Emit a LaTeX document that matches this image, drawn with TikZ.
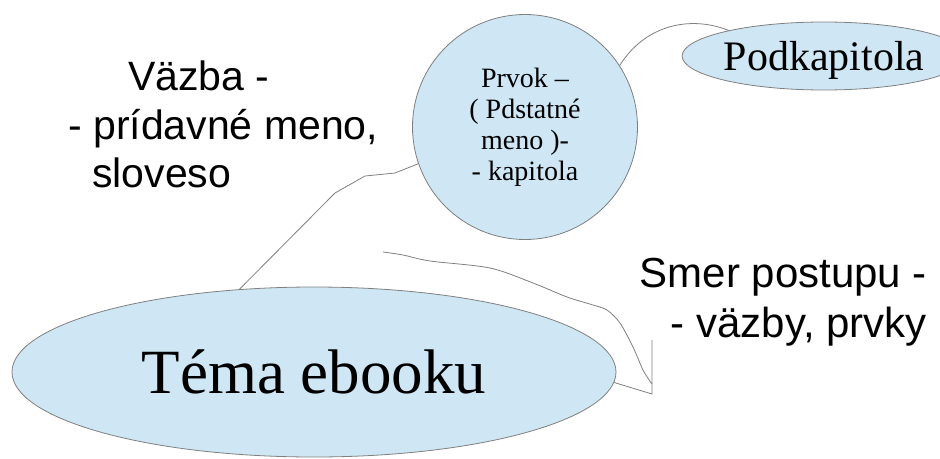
\documentclass[tikz,border=0pt]{standalone}
\usepackage{fontspec}
\setmainfont{Liberation Serif}
\newfontfamily\arialfont{Liberation Sans}
\usetikzlibrary{shapes.geometric}
\definecolor{bublina}{HTML}{CFE7F5}
\definecolor{ciara}{HTML}{7F7F7F}

\begin{document}
\begin{tikzpicture}[x = 1pt, y = -1pt,
    bublina/.style = {draw=ciara, fill=bublina, line width=0.8pt, inner sep=0pt},
    spoj/.style = {draw=ciara, line width=0.8pt},
    popis/.style = {inner sep=0pt, font=\arialfont\fontsize{41}{48.5}\selectfont}]

    \useasboundingbox (0,0) rectangle (940,458);

    \node[bublina, ellipse, minimum width=604, minimum height=170] (tema) at (314,372)
        {\fontsize{63}{70}\selectfont Téma ebooku};
    \node[bublina, circle, minimum size=225, align=center, font=\fontsize{28}{31}\selectfont] (prvok) at (525,127)
        {Prvok –\\( Pdstatné\\meno )-\\- kapitola};
    \node[bublina, ellipse, minimum width=228, minimum height=68, text depth=0pt] (podkap) at (824,56)
        {\fontsize{42}{48}\selectfont Podkapitola};

    \node[popis, align=left, anchor=north west] (vazba) at (68,61)
        {\hspace{60pt}Väzba -\\- prídavné meno,\\\hspace{24pt}sloveso};
    \node[popis, align=right, anchor=north east, font=\arialfont\fontsize{42}{50}\selectfont] (smer) at (927,258)
        {Smer postupu -\\- väzby, prvky};

    \draw[spoj] (tema.132) -- (335,193) -- (365,176) -- (395,173) -- (prvok.199);
    \draw[spoj] (prvok.33) .. controls (645,25) and (690,15) .. (podkap.165);

    \coordinate (zaciatok) at (383,252);
    \coordinate (hrot) at (652,394);
    \coordinate (vrch) at (652,340);
    \draw[spoj] plot[smooth, tension=0.5] coordinates {(zaciatok) (403,255) (430,261) (490,268)
        (533,283) (567,297) (593,305) (607,310) (620,323) (633,347) (643,370) (652,384)};
    \draw[spoj] (vrch) -- (hrot) -- (tema.-2);

\end{tikzpicture}
\end{document}
